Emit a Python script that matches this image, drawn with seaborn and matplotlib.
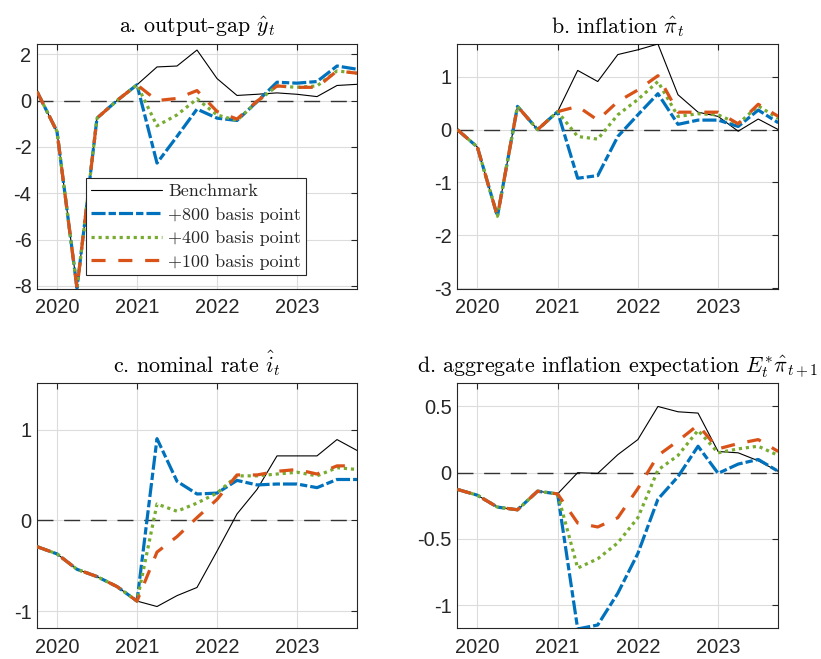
import matplotlib
matplotlib.use("Agg")
import matplotlib.pyplot as plt
import numpy as np
import pandas as pd
import seaborn as sns

# ---------------- data ----------------
quarters = [2019.75, 2020.00, 2020.25, 2020.50, 2020.75, 2021.00, 2021.25, 2021.50,
            2021.75, 2022.00, 2022.25, 2022.50, 2022.75, 2023.00, 2023.25, 2023.50, 2023.75]
scenarios = ["Benchmark", "+800 basis point", "+400 basis point", "+100 basis point"]
year_ticks = [2020, 2021, 2022, 2023]

# a. output gap
bench_a = [0.39, -1.34, -8.10, -0.76, 0.00, 0.68, 1.45, 1.49, 2.18, 0.95, 0.22, 0.27, 0.33, 0.27, 0.17, 0.65, 0.70]
bp800_a = [0.39, -1.34, -8.10, -0.76, 0.00, 0.68, -2.70, -1.55, -0.37, -0.76, -0.86, -0.05, 0.79, 0.75, 0.82, 1.49, 1.35]
bp400_a = [0.39, -1.34, -8.10, -0.76, 0.00, 0.68, -1.09, -0.62, 0.07, -0.62, -0.86, -0.05, 0.63, 0.57, 0.63, 1.28, 1.18]
bp100_a = [0.39, -1.34, -8.10, -0.76, 0.00, 0.68, 0.00, 0.09, 0.43, -0.47, -0.80, -0.03, 0.63, 0.57, 0.57, 1.28, 1.18]

# b. inflation
bench_b = [0.00, -0.33, -1.64, 0.44, 0.00, 0.34, 1.12, 0.91, 1.42, 1.51, 1.62, 0.66, 0.33, 0.25, -0.03, 0.20, 0.00]
bp800_b = [0.00, -0.33, -1.64, 0.44, 0.00, 0.34, -0.92, -0.87, -0.13, 0.28, 0.68, 0.10, 0.18, 0.18, 0.06, 0.37, 0.13]
bp400_b = [0.00, -0.33, -1.64, 0.44, 0.00, 0.34, -0.13, -0.18, 0.28, 0.57, 0.91, 0.25, 0.30, 0.28, 0.11, 0.45, 0.21]
bp100_b = [0.00, -0.33, -1.64, 0.44, 0.00, 0.34, 0.44, 0.18, 0.53, 0.75, 1.02, 0.33, 0.33, 0.33, 0.11, 0.48, 0.25]

# c. nominal rate
bench_c = [-0.29, -0.37, -0.54, -0.62, -0.73, -0.89, -0.95, -0.83, -0.74, -0.34, 0.07, 0.34, 0.71, 0.71, 0.71, 0.89, 0.77]
bp800_c = [-0.29, -0.37, -0.54, -0.62, -0.73, -0.89, 0.90, 0.43, 0.29, 0.30, 0.44, 0.39, 0.40, 0.40, 0.36, 0.45, 0.45]
bp400_c = [-0.29, -0.37, -0.54, -0.62, -0.73, -0.89, 0.18, 0.10, 0.19, 0.30, 0.49, 0.49, 0.51, 0.53, 0.49, 0.58, 0.56]
bp100_c = [-0.29, -0.37, -0.54, -0.62, -0.73, -0.89, -0.35, -0.18, 0.03, 0.23, 0.50, 0.50, 0.54, 0.56, 0.51, 0.60, 0.60]

# d. aggregate inflation expectation
bench_d = [-0.126, -0.17, -0.26, -0.28, -0.14, -0.16, 0.00, -0.005, 0.136, 0.25, 0.50, 0.46, 0.45, 0.16, 0.15, 0.09, 0.01]
bp800_d = [-0.126, -0.17, -0.26, -0.28, -0.14, -0.16, -1.18, -1.15, -0.91, -0.61, -0.20, -0.03, 0.20, -0.005, 0.065, 0.10, 0.01]
bp400_d = [-0.126, -0.17, -0.26, -0.28, -0.14, -0.16, -0.72, -0.65, -0.53, -0.34, 0.02, 0.13, 0.32, 0.15, 0.18, 0.20, 0.13]
bp100_d = [-0.126, -0.17, -0.26, -0.28, -0.14, -0.16, -0.38, -0.41, -0.34, -0.12, 0.13, 0.24, 0.36, 0.18, 0.22, 0.25, 0.16]

titles = [r"a. output-gap $\hat{y}_t$",
          r"b. inflation $\hat{\pi}_t$",
          r"c. nominal rate $\hat{i}_t$",
          r"d. aggregate inflation expectation $E^{*}_t\hat{\pi}_{t+1}$"]
yticks_list = [[-8, -6, -4, -2, 0, 2], [-3, -2, -1, 0, 1], [-1, 0, 1], [-1, -0.5, 0, 0.5]]
yticklabels_list = [["-8", "-6", "-4", "-2", "0", "2"], ["-3", "-2", "-1", "0", "1"],
                    ["-1", "0", "1"], ["-1", "-0.5", "0", "0.5"]]
ylims = [(-8.12, 2.44), (-3.01, 1.62), (-1.19, 1.51), (-1.175, 0.675)]
panel_series = [(bench_a, bp800_a, bp400_a, bp100_a),
                (bench_b, bp800_b, bp400_b, bp100_b),
                (bench_c, bp800_c, bp400_c, bp100_c),
                (bench_d, bp800_d, bp400_d, bp100_d)]

# ---------------- style ----------------
sns.set_theme(style="white")
plt.rcParams["font.family"] = ["Liberation Sans", "DejaVu Sans"]
plt.rcParams["mathtext.fontset"] = "cm"
plt.rcParams["axes.unicode_minus"] = False

palette = {"Benchmark": "black", "+800 basis point": "#0072BD",
           "+400 basis point": "#77AC30", "+100 basis point": "#D95319"}
dashes = {"Benchmark": "", "+800 basis point": (4.4, 0.95, 2.3, 0.95),
          "+400 basis point": (1.0, 1.2), "+100 basis point": (4.4, 4.0)}
sizes = {"Benchmark": 0.8, "+800 basis point": 2.3,
         "+400 basis point": 2.3, "+100 basis point": 2.3}

W, H = 821, 659
fig = plt.figure(figsize=(W / 100, H / 100), dpi=100)
boxes = [(37, 44, 357, 288.7), (457.3, 44, 778.3, 288.7),
         (37, 383.3, 357, 628.3), (457.3, 383.3, 778.3, 628.3)]

spine_col = "#262626"
for k, (l, t, r, b) in enumerate(boxes):
    ax = fig.add_axes([l / W, 1 - b / H, (r - l) / W, (b - t) / H])
    rows = []
    for name, vals in zip(scenarios, panel_series[k]):
        for q, v in zip(quarters, vals):
            rows.append({"t": q, "v": v, "scenario": name})
    df = pd.DataFrame(rows)

    ax.axhline(0, color="#333333", lw=1.0, ls=(0, (11.5, 7.7)), zorder=1.5)
    n0 = len(ax.lines)
    sns.lineplot(data=df, x="t", y="v", hue="scenario", style="scenario", size="scenario",
                 hue_order=scenarios, style_order=scenarios, size_order=scenarios,
                 palette=palette, dashes=dashes, sizes=sizes, legend=False,
                 ax=ax, zorder=3)
    new_lines = ax.lines[n0:]

    ax.set_xlim(2019.75, 2023.75)
    ax.set_ylim(*ylims[k])
    ax.set_xticks(year_ticks)
    ax.set_xticklabels([str(y) for y in year_ticks])
    ax.set_yticks(yticks_list[k])
    ax.set_yticklabels(yticklabels_list[k])
    ax.set_xlabel("")
    ax.set_ylabel("")
    ax.grid(True, color="#dcdcdc", linewidth=0.8)
    ax.set_axisbelow(True)
    for s in ax.spines.values():
        s.set_visible(True)
        s.set_color(spine_col)
        s.set_linewidth(0.8)
    ax.tick_params(axis="both", direction="in", top=True, right=True, length=4,
                   width=0.8, color=spine_col, labelcolor=spine_col, labelsize=14.4)
    ax.tick_params(axis="x", pad=7)
    ax.tick_params(axis="y", pad=4)
    ax.set_title(titles[k], fontsize=15.8, family="cmr10", pad=8, color="black")

    if k == 0:
        leg = ax.legend(handles=new_lines, labels=scenarios, loc="lower left",
                        bbox_to_anchor=(0.153, 0.056), borderaxespad=0,
                        prop={"family": "cmr10", "size": 13}, fancybox=False,
                        framealpha=1, edgecolor=spine_col, handlelength=3.9,
                        handletextpad=0.35, borderpad=0.3, labelspacing=0.42)
        leg.get_frame().set_linewidth(0.8)

fig.savefig("out.png", dpi=100)
